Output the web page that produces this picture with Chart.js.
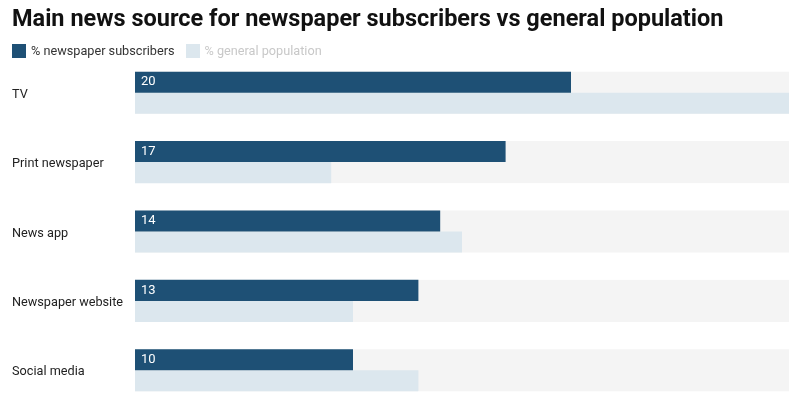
<!DOCTYPE html>
<html>
<head>
<meta charset="utf-8">
<script src="https://cdn.jsdelivr.net/npm/chart.js@4.4.1/dist/chart.umd.min.js"></script>
<style>
    html, body { margin: 0; padding: 0; background: #fff; }
    #contenedor { position: relative; width: 800px; height: 409px; font-family: Roboto, sans-serif; }
    #grafica { position: absolute; left: 0; top: 0; }
    #titulo { position: absolute; left: 12px; top: 4px; margin: 0; font-size: 23.5px; font-weight: 700; color: #111; white-space: nowrap; }
    #leyenda { position: absolute; left: 12px; top: 43px; display: flex; font-size: 12.7px; line-height: 15px; }
    .item { display: flex; align-items: center; margin-right: 11px; }
    .caja { width: 14px; height: 14px; margin-right: 5px; }
</style>
</head>
<body>
<div id="contenedor">
    <canvas id="grafica" width="800" height="409"></canvas>
    <h1 id="titulo">Main news source for newspaper subscribers vs general population</h1>
    <div id="leyenda"></div>
</div>
<script>
// datos
const categorias = ['TV', 'Print newspaper', 'News app', 'Newspaper website', 'Social media'];
const suscriptores = [20, 17, 14, 13, 10]; // % newspaper subscribers
const poblacion = [30, 9, 15, 10, 13]; // % general population
const maximo = 30;

const series = [
    { label: '% newspaper subscribers', data: suscriptores, color: '#1e5075', texto: '#333' },
    { label: '% general population', data: poblacion, color: '#dce7ee', texto: '#c8c8c8' }
];

// leyenda en html
let leyenda = document.getElementById('leyenda');
series.forEach(function(s) {
    let item = document.createElement('div');
    item.className = 'item';
    item.innerHTML = '<span class="caja" style="background:' + s.color + '"></span><span style="color:' + s.texto + '">' + s.label + '</span>';
    leyenda.appendChild(item);
});

// fondo gris detras de cada grupo de barras
const pistas = {
    id: 'pistas',
    beforeDatasetsDraw(chart) {
        const ctx = chart.ctx;
        const x = chart.scales.x;
        const m0 = chart.getDatasetMeta(0);
        const m1 = chart.getDatasetMeta(1);
        ctx.save();
        ctx.fillStyle = '#f4f4f4';
        m0.data.forEach(function(barra, i) {
            const otra = m1.data[i];
            const arriba = barra.y - barra.height / 2;
            const abajo = otra.y + otra.height / 2;
            const x0 = x.getPixelForValue(0);
            ctx.fillRect(x0, arriba, x.getPixelForValue(maximo) - x0, abajo - arriba);
        });
        ctx.restore();
    }
};

// numeros blancos dentro de las barras oscuras
const etiquetas = {
    id: 'etiquetas',
    afterDatasetsDraw(chart) {
        const ctx = chart.ctx;
        const x = chart.scales.x;
        ctx.save();
        ctx.fillStyle = '#fff';
        ctx.font = '13px Roboto';
        ctx.textAlign = 'left';
        ctx.textBaseline = 'middle';
        chart.getDatasetMeta(0).data.forEach(function(barra, i) {
            ctx.fillText(suscriptores[i], x.getPixelForValue(0) + 6, barra.y);
        });
        ctx.restore();
    }
};

new Chart(document.getElementById('grafica'), {
    type: 'bar',
    data: {
        labels: categorias,
        datasets: series.map(function(s) {
            return {
                label: s.label,
                data: s.data,
                backgroundColor: s.color,
                borderWidth: 0,
                categoryPercentage: 0.606,
                barPercentage: 1
            };
        })
    },
    options: {
        indexAxis: 'y',
        responsive: false,
        animation: false,
        layout: { padding: { top: 58, left: 12, right: 11, bottom: 4 } },
        plugins: {
            legend: { display: false },
            title: { display: false },
            tooltip: { enabled: false }
        },
        scales: {
            x: { display: false, min: 0, max: maximo },
            y: {
                grid: { display: false },
                border: { display: false },
                ticks: {
                    crossAlign: 'far',
                    color: '#222',
                    labelOffset: 2,
                    font: { family: 'Roboto', size: 12.7 }
                },
                afterFit(scale) {
                    scale.width = 123;
                    scale.paddingTop = 0;
                    scale.paddingBottom = 0;
                }
            }
        }
    },
    plugins: [pistas, etiquetas]
});
</script>
</body>
</html>
